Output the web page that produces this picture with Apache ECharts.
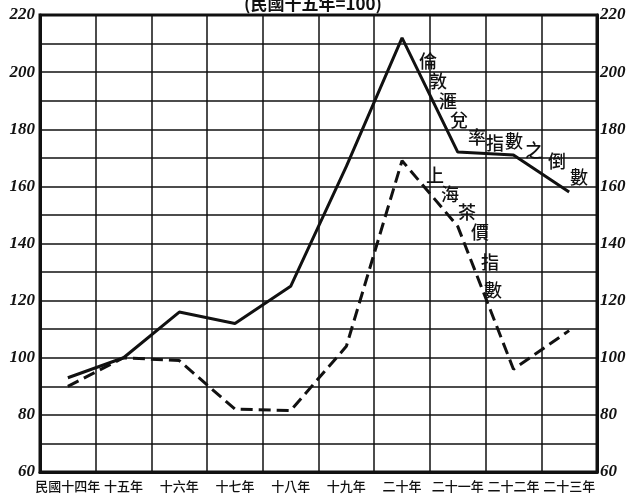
<!DOCTYPE html>
<html>
<head>
<meta charset="utf-8">
<script src="https://cdn.jsdelivr.net/npm/echarts@6/dist/echarts.min.js"></script>
<style>
  html, body { margin: 0; padding: 0; background: #fff; }
  #chart { width: 629px; height: 501px; }
</style>
</head>
<body>
<div id="chart"></div>
<script>
// 年份（民國）
const years = ['民國十四年', '十五年', '十六年', '十七年', '十八年', '十九年', '二十年', '二十一年', '二十二年', '二十三年'];
// 倫敦滙兌率指數之倒數（實線）
const londonInv = [93, 100, 116, 112, 125, 167, 212, 172, 171, 158];
// 上海茶價指數（虛線）
const teaIndex = [90, 100, 99, 82, 81.5, 104, 169, 146, 96, 109.5];

const CJK = '"Noto Sans CJK TC", "Noto Sans CJK SC", sans-serif';
const INK = '#111';

// ---- 線旁說明文字（逐字排列） ----
const solidNote = [
  ['倫', 428, 61], ['敦', 438, 81], ['滙', 448, 101], ['兌', 459, 120],
  ['率', 477, 137], ['指', 495, 143], ['數', 514, 141], ['之', 534, 150],
  ['倒', 557, 161], ['數', 579, 177],
];
const dashNote = [
  ['上', 435, 175], ['海', 450, 194], ['茶', 467, 212], ['價', 480, 232],
  ['指', 490, 262], ['數', 493, 290],
];

function charText([ch, x, y]) {
  return {
    type: 'text', x, y,
    style: { text: ch, fill: INK, font: '500 18px ' + CJK, align: 'center', verticalAlign: 'middle' },
  };
}

const yLabel = (side) => ({
  color: INK, fontSize: 17, fontStyle: 'italic', fontWeight: 'bold',
  fontFamily: '"Liberation Serif", serif', margin: side === 'left' ? 5 : 3,
  formatter: (v) => (v % 20 === 0 ? String(v) : ''),
});

const chart = echarts.init(document.getElementById('chart'));
chart.setOption({
  animation: false,
  backgroundColor: '#fff',
  grid: { left: 40, right: 32, top: 15, bottom: 29, show: true, borderColor: INK, borderWidth: 3 },
  xAxis: {
    type: 'category', data: years, boundaryGap: true,
    axisLine: { lineStyle: { color: INK, width: 3 } },
    axisTick: { show: false },
    splitLine: { show: true, lineStyle: { color: INK, width: 1.5 } },
    axisLabel: { color: INK, fontSize: 13, fontWeight: 500, fontFamily: CJK, margin: 8, interval: 0 },
  },
  yAxis: [
    {
      type: 'value', min: 60, max: 220, interval: 10, position: 'left',
      axisLine: { show: true, lineStyle: { color: INK, width: 3 } },
      axisTick: { show: false },
      splitLine: { show: true, lineStyle: { color: INK, width: 1.5 } },
      axisLabel: yLabel('left'),
    },
    {
      type: 'value', min: 60, max: 220, interval: 10, position: 'right',
      axisLine: { show: true, lineStyle: { color: INK, width: 3 } },
      axisTick: { show: false },
      splitLine: { show: false },
      axisLabel: yLabel('right'),
    },
  ],
  series: [
    {
      name: '倫敦滙兌率指數之倒數', type: 'line', data: londonInv,
      symbol: 'none', lineStyle: { color: INK, width: 3 },
    },
    {
      name: '上海茶價指數', type: 'line', data: teaIndex,
      symbol: 'none', lineStyle: { color: INK, width: 3, type: [12, 6] },
    },
  ],
  graphic: [
    {
      type: 'text', x: 313, y: 4,
      style: { text: '(民國十五年=100)', fill: INK, font: 'bold 17px ' + CJK, align: 'center', verticalAlign: 'middle' },
    },
    ...solidNote.map(charText),
    ...dashNote.map(charText),
  ],
});
</script>
</body>
</html>
